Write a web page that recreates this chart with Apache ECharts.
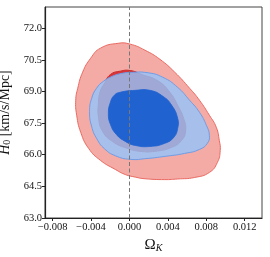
<!DOCTYPE html>
<html>
<head>
<meta charset="utf-8">
<script src="https://cdn.jsdelivr.net/npm/echarts@6/dist/echarts.min.js"></script>
<style>
html,body{margin:0;padding:0;background:#fff;}
#chart{width:270px;height:257px;}
</style>
</head>
<body>
<div id="chart"></div>
<script>
// Tick labels
const xTicks = [-0.008, -0.004, 0, 0.004, 0.008, 0.012];
const yTicks = [63.0, 64.5, 66.0, 67.5, 69.0, 70.5, 72.0];
const refOmegaK = 0;

// Contours: [Omega_K, H0]
const redOuter = [
  [-0.00117, 71.28], [0.00007, 71.24], [0.00162, 70.95], [0.00317, 70.52], [0.00471, 69.91],
  [0.00626, 69.15], [0.00729, 68.58], [0.00832, 67.87], [0.00904, 67.30], [0.00935, 66.68],
  [0.00945, 66.20], [0.00915, 65.63], [0.00832, 65.16], [0.00677, 64.92], [0.00502, 64.85],
  [0.00368, 64.82], [0.00162, 64.86], [0.00059, 64.94], [-0.00044, 65.06], [-0.00147, 65.30],
  [-0.00302, 65.73], [-0.00426, 66.30], [-0.00508, 67.06], [-0.00550, 67.87], [-0.00560, 68.58],
  [-0.00539, 69.15], [-0.00488, 69.91], [-0.00405, 70.57], [-0.00302, 71.05]
];
const redInner = [
  [-0.00199, 69.80], [-0.00096, 69.96], [0.00007, 69.99], [0.00131, 69.80], [0.00296, 69.50],
  [0.00420, 68.96], [0.00502, 68.34], [0.00564, 67.72], [0.00585, 67.15], [0.00543, 66.68],
  [0.00440, 66.35], [0.00265, 66.16], [0.00110, 66.16], [-0.00024, 66.30], [-0.00178, 66.63],
  [-0.00281, 67.11], [-0.00323, 67.77], [-0.00323, 68.48], [-0.00305, 69.00], [-0.00265, 69.35]
];
const blueOuter = [
  [-0.00075, 69.86], [0.00007, 69.90], [0.00182, 69.89], [0.00347, 69.67], [0.00502, 69.19],
  [0.00626, 68.58], [0.00729, 68.01], [0.00801, 67.39], [0.00832, 66.92], [0.00811, 66.54],
  [0.00729, 66.25], [0.00574, 66.06], [0.00368, 65.92], [0.00182, 65.82], [0.00007, 65.78],
  [-0.00147, 65.95], [-0.00260, 66.28], [-0.00340, 66.75], [-0.00395, 67.35], [-0.00416, 68.05],
  [-0.00394, 68.67], [-0.00343, 69.15], [-0.00271, 69.48], [-0.00178, 69.72]
];
const blueInner = [
  [-0.00096, 68.96], [0.00059, 69.05], [0.00213, 69.05], [0.00347, 68.77], [0.00440, 68.34],
  [0.00502, 67.72], [0.00502, 67.25], [0.00461, 66.82], [0.00368, 66.54], [0.00213, 66.39],
  [0.00059, 66.44], [-0.00044, 66.63], [-0.00137, 66.96], [-0.00199, 67.44], [-0.00220, 67.96],
  [-0.00199, 68.48], [-0.00158, 68.82]
];

const serif = "'Liberation Serif', 'DejaVu Serif', serif";

function contour(name, pts, style, z) {
  return {
    type: 'custom', name: name, data: pts, z: z, silent: true, clip: true,
    encode: { x: 0, y: 1 },
    renderItem: function (params, api) {
      if (params.dataIndex !== 0) return null;
      const points = pts.map(function (p) { return api.coord(p); });
      return { type: 'polygon', shape: { points: points, smooth: 0.5 }, style: style };
    }
  };
}

const chart = echarts.init(document.getElementById('chart'), null, { renderer: 'canvas' });
chart.setOption({
  animation: false,
  backgroundColor: '#fff',
  grid: { left: 45, top: 7, right: 8, bottom: 39, outerBoundsMode: 'none', containLabel: false,
          show: true, borderColor: '#444', borderWidth: 1, backgroundColor: 'transparent' },
  xAxis: {
    type: 'value', min: -0.0088, max: 0.0138,
    name: '{o|Ω}{k|K}', nameLocation: 'middle', nameGap: 17,
    nameTextStyle: { rich: {
      o: { fontFamily: serif, fontSize: 15, color: '#111' },
      k: { fontFamily: serif, fontStyle: 'italic', fontSize: 10, color: '#111', verticalAlign: 'bottom', padding: [6, 0, 0, 0] }
    } },
    splitLine: { show: false },
    axisLine: { show: true, onZero: false, lineStyle: { color: '#222', width: 1.2 } },
    axisTick: { show: true, inside: false, length: 3, customValues: xTicks, lineStyle: { color: '#222' } },
    axisLabel: {
      customValues: xTicks, margin: 4, fontFamily: serif, fontSize: 10.5, color: '#111',
      formatter: function (v) { return (v < -1e-12 ? '\u2212' : '') + Math.abs(v).toFixed(3); }
    }
  },
  yAxis: {
    type: 'value', min: 63, max: 73,
    name: '{h|H}{s|0} {t|[km/s/Mpc]}', nameLocation: 'middle', nameGap: 26, nameRotate: 90,
    nameTextStyle: { rich: {
      h: { fontFamily: serif, fontStyle: 'italic', fontSize: 14, color: '#111' },
      s: { fontFamily: serif, fontSize: 10, color: '#111', verticalAlign: 'bottom', padding: [5, 0, 0, 0] },
      t: { fontFamily: serif, fontSize: 14, color: '#111' }
    } },
    splitLine: { show: false },
    axisLine: { show: true, onZero: false, lineStyle: { color: '#222', width: 1.2 } },
    axisTick: { show: true, inside: false, length: 3, customValues: yTicks, lineStyle: { color: '#222' } },
    axisLabel: {
      customValues: yTicks, margin: 3, fontFamily: serif, fontSize: 10.5, color: '#111',
      formatter: function (v) { return v.toFixed(1); }
    }
  },
  series: [
    contour('red95', redOuter, { fill: '#f4aba5', stroke: '#ea6a62', lineWidth: 1 }, 1),
    contour('red68', redInner, { fill: '#d8343a', stroke: '#c92a2a', lineWidth: 1 }, 2),
    contour('blue95', blueOuter, { fill: 'rgba(146,197,252,0.8)', stroke: '#6f9ce6', lineWidth: 1 }, 3),
    Object.assign(contour('blue68', blueInner, { fill: '#1f62d0', stroke: '#1f62d0', lineWidth: 0.8 }, 4), {
      markLine: {
        silent: true, symbol: 'none', label: { show: false },
        lineStyle: { color: '#777', type: [4, 2.5], width: 1 },
        data: [{ xAxis: refOmegaK }]
      }
    })
  ]
});
</script>
</body>
</html>
